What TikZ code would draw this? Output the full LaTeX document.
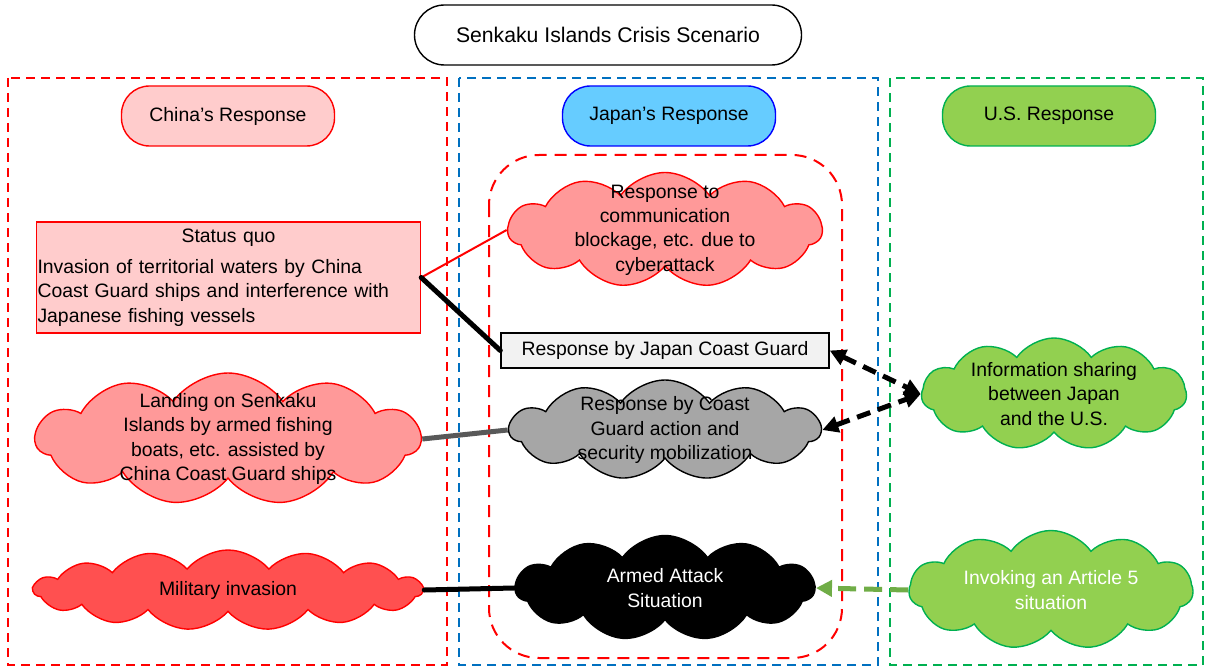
\documentclass[tikz,border=0pt]{standalone}
\usepackage{fontspec}
\setmainfont{Liberation Sans}
\usetikzlibrary{arrows.meta,positioning,shapes.symbols}
\definecolor{cnred}{HTML}{FF0000}
\definecolor{cnpink}{HTML}{FFCCCC}
\definecolor{cyberfill}{HTML}{FF9999}
\definecolor{milfill}{HTML}{FF5050}
\definecolor{jpblue}{HTML}{0070C0}
\definecolor{jpline}{HTML}{0000FF}
\definecolor{jpcyan}{HTML}{66CCFF}
\definecolor{usgreen}{HTML}{00B050}
\definecolor{uslime}{HTML}{92D050}
\definecolor{grayfill}{HTML}{A6A6A6}
\definecolor{jcgfill}{HTML}{F2F2F2}
\definecolor{linegray}{HTML}{595959}
\definecolor{arrowgreen}{HTML}{70AD47}

\begin{document}
\begin{tikzpicture}[x=0.5pt,y=-0.5pt,
  every node/.style={font=\fontsize{9.7}{12.2}\selectfont,align=center},
  grp/.style={line width=1pt,dash pattern=on 4.5pt off 3pt},
  pill/.style={draw,line width=0.7pt,rounded corners=14pt,minimum width=106.5pt,minimum height=30pt},
  puff/.style={cloud,cloud puffs=11,cloud puff arc=110,cloud ignores aspect,draw,line width=0.7pt,inner sep=0pt},
  link/.style={line width=2.5pt,line cap=round},
  share/.style={line width=2.5pt,dash pattern=on 7pt off 4pt,{Triangle[length=8pt,width=8pt]}-{Triangle[length=8pt,width=8pt]}}]

\useasboundingbox (0,0) rectangle (1208,668);
\draw[grp,cnred] (8,78) rectangle (447,665);
\draw[grp,jpblue] (459,78) rectangle (878,665);
\draw[grp,usgreen] (890,78) rectangle (1203,665);
\draw[cnred,line width=1pt,dash pattern=on 6pt off 4pt,rounded corners=25pt] (489,155) rectangle (842,658);

\node[draw,line width=0.7pt,rounded corners=15pt,minimum width=193.5pt,minimum height=30pt,font=\fontsize{10.6}{13}\selectfont] (title) at (608,35) {Senkaku Islands Crisis Scenario};

\foreach \n/\x/\fc/\dc/\t in {china/228/cnpink/cnred/China’s Response,japan/669/jpcyan/jpline/Japan’s Response,us/1049/uslime/usgreen/U.S. Response}
  \node[pill,fill=\fc,draw=\dc] (\n) at (\x,116) {\t};

\node[draw=cnred,fill=cnpink,line width=0.7pt,minimum height=52.5pt,text width=191pt,inner xsep=0.5pt,align=left] (quo) at (228.5,277.5) {\makebox[191pt]{Status quo}\\[3.3pt]Invasion of territorial waters by China\\Coast Guard ships and interference with\\Japanese fishing vessels};

\node[puff,fill=cyberfill,draw=cnred,minimum width=157pt,minimum height=57.5pt] (cyber) at (665,230) {};
\node (cybertxt) at (cyber) {Response to\\communication\\blockage, etc. due to\\cyberattack};
\node[draw=black,fill=jcgfill,line width=0.7pt,minimum width=164pt,minimum height=17.5pt,inner sep=0pt] (jcg) at (665,350.5) {Response by Japan Coast Guard};
\node[puff,fill=grayfill,draw=black,minimum width=155.5pt,minimum height=50pt] (mobil) at (665,430) {};
\node (mobiltxt) at (mobil) {Response by Coast\\Guard action and\\security mobilization};
\node[puff,fill=uslime,draw=usgreen,minimum width=132.5pt,minimum height=56pt] (share) at (1054,394) {};
\node (sharetxt) at (share) {Information sharing\\between Japan\\and the U.S.};
\node[puff,fill=cyberfill,draw=cnred,minimum width=192.5pt,minimum height=66pt] (landing) at (228,439) {};
\node (landingtxt) at (landing) {Landing on Senkaku\\Islands by armed fishing\\boats, etc. assisted by\\China Coast Guard ships};
\node[puff,cloud puffs=15,cloud puff arc=100,fill=milfill,draw=cnred,minimum width=194.5pt,minimum height=40pt] (invasion) at (228,590) {};
\node (invasiontxt) at (invasion) {Military invasion};
\node[puff,fill=black,draw=black,minimum width=149.5pt,minimum height=52.5pt] (armed) at (665,588) {};
\node[text=white] (armedtxt) at (armed) {Armed Attack\\Situation};
\node[puff,fill=uslime,draw=usgreen,minimum width=142pt,minimum height=59.5pt] (art5) at (1051,590) {};
\node[text=white] (art5txt) at (art5) {Invoking an Article 5\\situation};

\draw[cnred,line width=1pt] (quo.east) -- (cyber.west);
\draw[link] (quo.east) -- (jcg.west);
\draw[link,linegray,line cap=butt] (landing.east) -- (mobil.west);
\draw[link] (invasion.east) -- (armed.west);
\draw[share] (jcg.east) -- (share.west);
\draw[share] (mobil.east) -- (share.west);
\draw[arrowgreen,line width=2.5pt,dash pattern=on 9pt off 4pt,-{Triangle[length=8pt,width=8pt]}] (art5.west) -- (armed.east);
\end{tikzpicture}
\end{document}
